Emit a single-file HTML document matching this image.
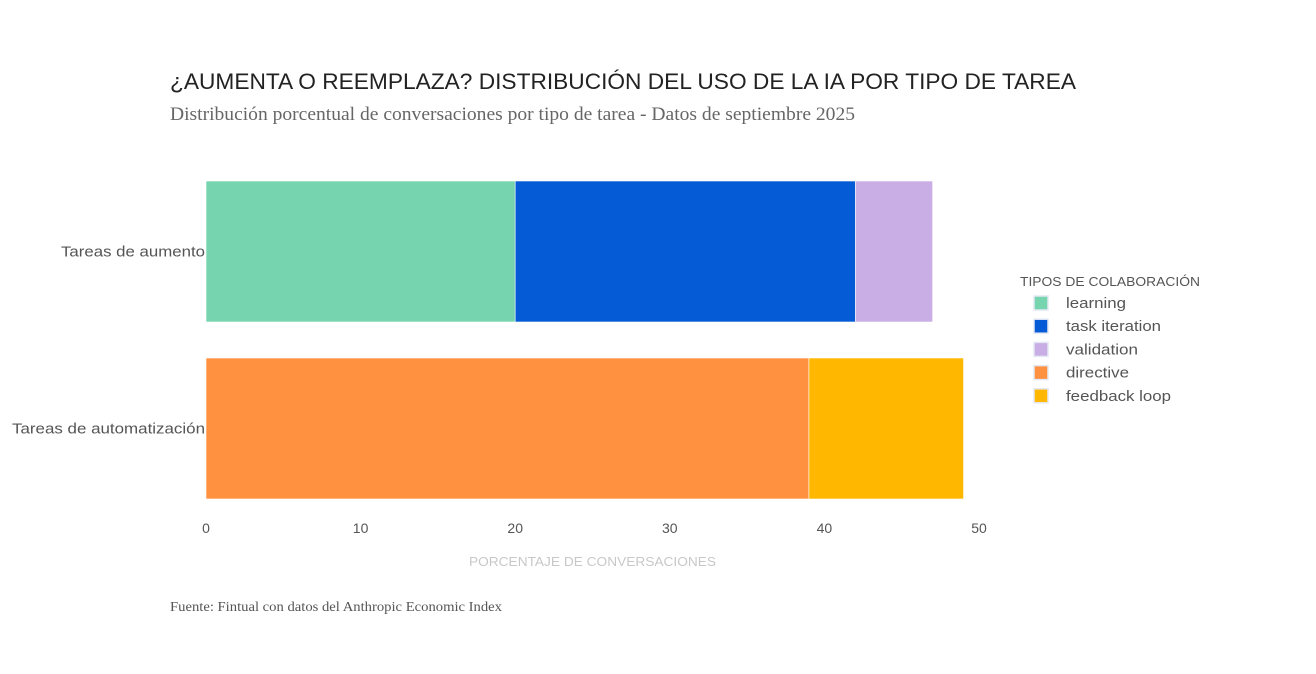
<!DOCTYPE html>
<html><head><meta charset="utf-8">
<style>
body{margin:0;background:#fff;width:1316px;height:669px;overflow:hidden;font-family:"Liberation Sans",sans-serif;}
svg text{font-family:"Liberation Sans",sans-serif;}
</style></head>
<body>
<svg id="chart" width="1316" height="669" xmlns="http://www.w3.org/2000/svg">
<text x="170" y="89" font-size="22" fill="#222" textLength="906" lengthAdjust="spacingAndGlyphs">¿AUMENTA O REEMPLAZA? DISTRIBUCIÓN DEL USO DE LA IA POR TIPO DE TAREA</text>
<text x="170" y="120" font-size="19" fill="#666" style="font-family:'Liberation Serif',serif" textLength="685" lengthAdjust="spacingAndGlyphs">Distribución porcentual de conversaciones por tipo de tarea - Datos de septiembre 2025</text>
<text x="469" y="566" font-size="13" fill="#c8c8c8" textLength="247" lengthAdjust="spacingAndGlyphs">PORCENTAJE DE CONVERSACIONES</text>
<text x="170" y="611" font-size="14" fill="#555" style="font-family:'Liberation Serif',serif" textLength="332" lengthAdjust="spacingAndGlyphs">Fuente: Fintual con datos del Anthropic Economic Index</text>
<text x="1020" y="286" font-size="13" fill="#555" textLength="180" lengthAdjust="spacingAndGlyphs">TIPOS DE COLABORACIÓN</text>
<g id="bars"></g><g id="xticks"></g><g id="legend"></g>
</svg>
<script>
const categories=["Tareas de aumento","Tareas de automatización"];
const seriesNames=["learning","task iteration","validation","directive","feedback loop"];
const seriesColors=["#76d5ae","#055bd6","#c8aee4","#ff9141","#ffb700"];
const learning=[20,0];
const taskIteration=[22,0];
const validation=[5,0];
const directive=[0,39];
const feedbackLoop=[0,10];
const xTicks=[0,10,20,30,40,50];
const series=[learning,taskIteration,validation,directive,feedbackLoop];
const catWidths=[144,193];
const legendWidths=[60,95,72,63,105];
const NS="http://www.w3.org/2000/svg";
const x0=206,x1=979,xmax=50;
const xs=v=>x0+(x1-x0)*v/xmax;
const bandTop=163,band=177,barH=141;
const yb=i=>bandTop+i*band+(band-barH)/2;
const bars=document.getElementById('bars');
categories.forEach((c,i)=>{
  let acc=0;
  series.forEach((s,k)=>{
    const v=s[i]; if(!v)return;
    const r=document.createElementNS(NS,'rect');
    r.setAttribute('x',xs(acc));r.setAttribute('y',yb(i));
    r.setAttribute('width',xs(acc+v)-xs(acc));r.setAttribute('height',barH);
    r.setAttribute('fill',seriesColors[k]);r.setAttribute('stroke','#fff');r.setAttribute('stroke-width','0.6');
    
    
    bars.appendChild(r);acc+=v;
  });
  const t=document.createElementNS(NS,'text');
  t.setAttribute('x',205-catWidths[i]);t.setAttribute('y',yb(i)+barH/2+5);
  t.setAttribute('textLength',catWidths[i]);t.setAttribute('lengthAdjust','spacingAndGlyphs');
  t.setAttribute('font-size','15');t.setAttribute('fill','#555');t.textContent=c;
  
  
  bars.appendChild(t);
});
const xt=document.getElementById('xticks');
xTicks.forEach(v=>{
  const t=document.createElementNS(NS,'text');
  t.setAttribute('x',xs(v));t.setAttribute('y',533);t.setAttribute('text-anchor','middle');
  t.setAttribute('font-size','14');t.setAttribute('fill','#555');t.textContent=v;
  
  
  xt.appendChild(t);
});
const lg=document.getElementById('legend');
seriesNames.forEach((n,k)=>{
  const y=303+k*23.2;
  const r=document.createElementNS(NS,'rect');
  r.setAttribute('x',1034);r.setAttribute('y',y-7);r.setAttribute('width',14);r.setAttribute('height',14);
  r.setAttribute('fill',seriesColors[k]);r.setAttribute('stroke','#e4e8f4');r.setAttribute('stroke-width','1.5');
  
  
  lg.appendChild(r);
  const t=document.createElementNS(NS,'text');
  t.setAttribute('x',1066);t.setAttribute('y',y+5);t.setAttribute('font-size','15');t.setAttribute('fill','#555');t.textContent=n;
  t.setAttribute('textLength',legendWidths[k]);t.setAttribute('lengthAdjust','spacingAndGlyphs');
  
  
  lg.appendChild(t);
});
</script>
</body></html>
